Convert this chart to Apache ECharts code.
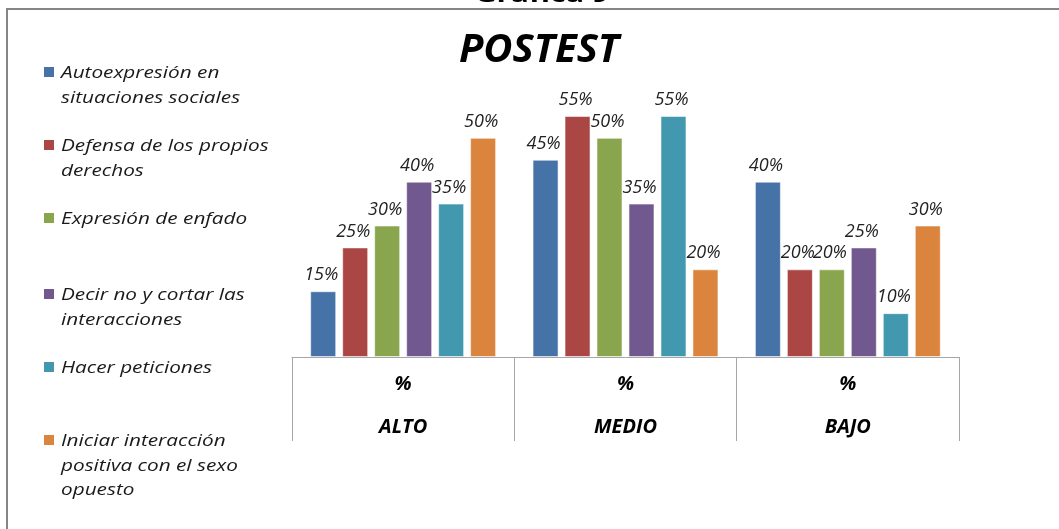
<!DOCTYPE html>
<html>
<head>
<meta charset="utf-8">
<style>
  html, body { margin: 0; padding: 0; background: #ffffff; }
  #chart { width: 1059px; height: 529px; }
</style>
<script src="https://cdn.jsdelivr.net/npm/echarts@6/dist/echarts.min.js"></script>
</head>
<body>
<div id="chart"></div>
<script>
// Levels on the horizontal axis
const levels = ['ALTO', 'MEDIO', 'BAJO'];

// Social-skill dimensions (one bar series each)
const seriesNames = [
  'Autoexpresión en situaciones sociales',
  'Defensa de los propios derechos',
  'Expresión de enfado',
  'Decir no y cortar las interacciones',
  'Hacer peticiones',
  'Iniciar interacción positiva con el sexo opuesto'
];
// Legend text with its line breaks
const legendLabels = [
  'Autoexpresión en\nsituaciones sociales',
  'Defensa de los propios\nderechos',
  'Expresión de enfado',
  'Decir no y cortar las\ninteracciones',
  'Hacer peticiones',
  'Iniciar interacción\npositiva con el sexo\nopuesto'
];

// Percentages per dimension, in the order ALTO, MEDIO, BAJO
const autoexpresion = [15, 45, 40];
const defensa       = [25, 55, 20];
const enfado        = [30, 50, 20];
const decirNo       = [40, 35, 25];
const peticiones    = [35, 55, 10];
const iniciar       = [50, 20, 30];

const seriesValues = [autoexpresion, defensa, enfado, decirNo, peticiones, iniciar];
const colors = ['#4572A7', '#AA4643', '#89A54E', '#71588F', '#4198AF', '#DB843D'];

const FONT = '"Open Sans", Lato, "DejaVu Sans", sans-serif';
const WIDE = 1.22; // horizontal stretch of the legend / caption lettering

// Legend drawn as stacked swatch + text blocks down the left side
const legendTops = [61, 134, 207, 283, 356, 429];
const legendGraphics = [];
legendLabels.forEach((txt, i) => {
  legendGraphics.push({
    type: 'rect',
    shape: { x: 44, y: legendTops[i] + 6, width: 10, height: 10 },
    style: { fill: colors[i] }
  });
  legendGraphics.push({
    type: 'text',
    x: 61,
    y: legendTops[i],
    scaleX: WIDE,
    style: {
      text: txt,
      fontFamily: FONT,
      fontStyle: 'italic',
      fontSize: 17,
      lineHeight: 24.5,
      fill: '#1a1a1a',
      textVerticalAlign: 'top'
    }
  });
});

const chart = echarts.init(document.getElementById('chart'), null, { renderer: 'canvas' });

chart.setOption({
  animation: false,
  backgroundColor: '#ffffff',
  title: {
    text: 'POSTEST',
    left: 534,
    textAlign: 'center',
    top: 26,
    textStyle: {
      fontFamily: FONT,
      fontStyle: 'italic',
      fontWeight: 'bold',
      fontSize: 40,
      color: '#000000'
    }
  },
  grid: { left: 292, right: 100, top: 94, bottom: 172 },
  xAxis: {
    type: 'category',
    data: levels,
    axisLine: { show: true, lineStyle: { color: '#a6a6a6', width: 1 } },
    axisTick: { show: true, length: 84, interval: 0, lineStyle: { color: '#a6a6a6', width: 1 } },
    axisLabel: {
      interval: 0,
      margin: 6,
      formatter: v => '{p|%}\n{c|' + v + '}',
      rich: {
        p: { fontFamily: FONT, fontStyle: 'italic', fontWeight: 'bold', fontSize: 20, lineHeight: 43, color: '#000' },
        c: { fontFamily: FONT, fontStyle: 'italic', fontWeight: 'bold', fontSize: 20, lineHeight: 43, color: '#000' }
      }
    }
  },
  yAxis: {
    type: 'value',
    min: 0,
    max: 60,
    show: false,
    splitLine: { show: false }
  },
  series: seriesNames.map((name, i) => ({
    type: 'bar',
    name: name,
    data: seriesValues[i],
    barWidth: 26,
    barGap: '23%',
    itemStyle: { color: colors[i], borderColor: 'rgba(255,255,255,0.55)', borderWidth: 1 },
    label: {
      show: true,
      position: 'top',
      distance: 7,
      offset: [-2, 0],
      formatter: p => p.value + '%',
      fontFamily: FONT,
      fontStyle: 'italic',
      fontSize: 18,
      color: '#222222'
    }
  })),
  graphic: [
    // caption above the frame, partially cut by the top edge
    {
      type: 'text',
      x: 542,
      y: 7,
      scaleX: WIDE,
      style: {
        text: 'Gráfica 9',
        fontFamily: FONT,
        fontWeight: 'bold',
        fontSize: 25,
        fill: '#000',
        textAlign: 'center',
        textVerticalAlign: 'bottom'
      }
    },
    // frame around the chart
    {
      type: 'polyline',
      shape: { points: [[7, 540], [7, 9], [1070, 9]] },
      style: { stroke: '#868686', lineWidth: 2, fill: null }
    }
  ].concat(legendGraphics)
});
</script>
</body>
</html>
